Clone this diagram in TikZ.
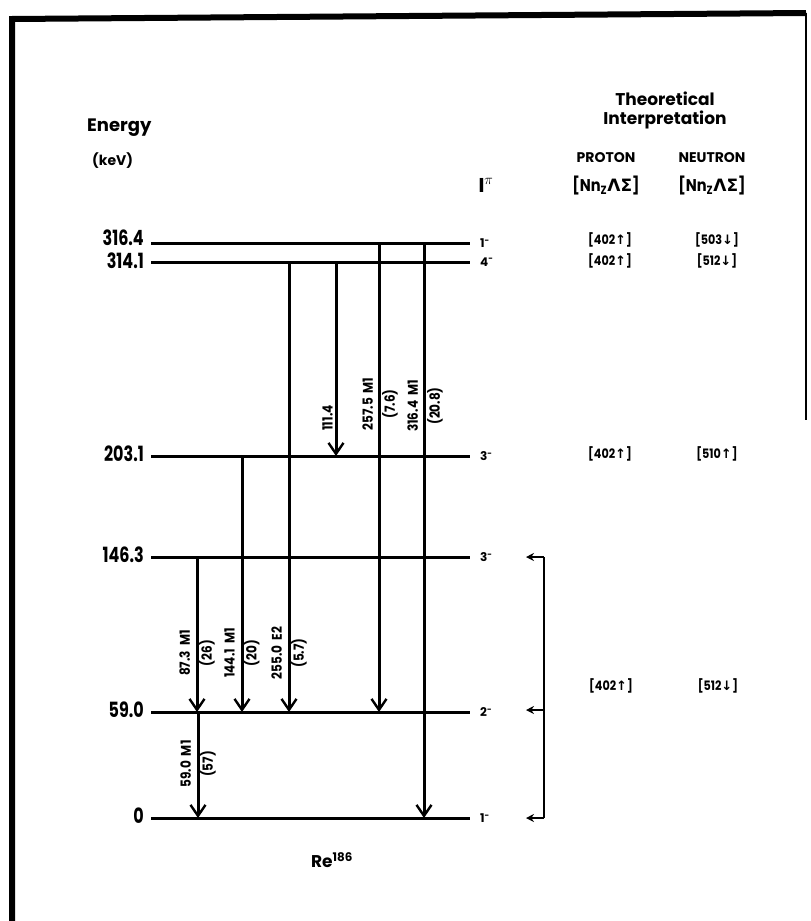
\documentclass[tikz,border=0pt]{standalone}
\usepackage{fontspec}
\setmainfont{Poppins}
\newfontfamily\condfont{Poppins}[FakeStretch=0.76]
\newfontfamily\semicond{Poppins}[FakeStretch=0.86]
\newfontfamily\gk{DejaVu Sans}
\usetikzlibrary{arrows.meta}
\begin{document}
\begin{tikzpicture}[x=1pt,y=-1pt,
  level/.style={line width=3pt},
  gammaline/.style={-{Straight Barb[length=11pt,width=15pt,line width=2.4pt]},line width=3pt},
  lev/.style={anchor=east,inner sep=0pt,font=\fontsize{21}{21}\condfont\bfseries},
  spin/.style={anchor=west,inner sep=0pt,font=\fontsize{12}{12}\selectfont\bfseries},
  tl/.style={rotate=90,align=center,inner sep=0pt,font=\fontsize{14}{22}\semicond\bfseries},
  qn/.style={inner sep=0pt,font=\fontsize{13}{13}\semicond\bfseries},
  hd/.style={inner sep=0pt,font=\fontsize{18}{18}\selectfont\bfseries},
  brk/.style={line width=1.5pt},
  brkarrow/.style={line width=1.5pt,-{Stealth[length=8pt,width=8pt]}}
]
\useasboundingbox (0,0) rectangle (811,921);
% frame
\coordinate (f1) at (12,921);
\coordinate (f2) at (12,19);
\coordinate (f3) at (806,13);
\coordinate (f4) at (806,420);
\draw[line width=6pt] (f1) -- (f2) -- (f3);
\draw[line width=2pt] (f3) -- (f4);

% headers
\node[hd,anchor=base west] (energy) at (87,131) {Energy};
\node[hd,anchor=base west,font=\fontsize{14}{14}\selectfont\bfseries] (kev) at (92,165) {(keV)};
\node[hd,align=center,font=\fontsize{17}{19}\selectfont\bfseries] (theo) at (665,110) {Theoretical\\Interpretation};
\node[qn,anchor=base,font=\fontsize{14}{14}\selectfont\bfseries] (proton) at (606,162) {PROTON};
\node[qn,anchor=base,font=\fontsize{14}{14}\selectfont\bfseries] (neutron) at (712,162) {NEUTRON};
\node[inner sep=0pt,font=\fontsize{20}{20}\selectfont] (ipi) at (486,185) {$\mathbf{I}^{\pi}$};
\node[qn,font=\fontsize{17}{17}\semicond\bfseries] (pnz) at (606,186) {[Nn\textsubscript{Z}{\gk ΛΣ}]};
\node[qn,font=\fontsize{17}{17}\semicond\bfseries] (nnz) at (712,186) {[Nn\textsubscript{Z}{\gk ΛΣ}]};

% levels
\foreach \nm/\yy/\ly/\lab/\sp in {L316/243/238/316.4/1, L314/262/261/314.1/4, L203/456/454/203.1/3, L146/557/555/146.3/3, L59/712/710/59.0/2, L0/818/816/0/1}{
  \coordinate (\nm a) at (151,\yy);
  \coordinate (\nm b) at (470,\yy);
  \draw[level] (\nm a) -- (\nm b);
  \node[lev] (\nm t) at (144,\ly) {\lab};
  \node[spin] (\nm s) at (480,\yy) {\sp\textsuperscript{-}};
}

% quantum numbers
\node[qn] (p316) at (610,240) {[402{\gk ↑}]};
\node[qn] (n316) at (717,240) {[503{\gk ↓}]};
\node[qn] (p314) at (610,261) {[402{\gk ↑}]};
\node[qn] (n314) at (717,261) {[512{\gk ↓}]};
\node[qn] (p203) at (610,454) {[402{\gk ↑}]};
\node[qn] (n203) at (717,454) {[510{\gk ↑}]};
\node[qn] (plow) at (611,686) {[402{\gk ↑}]};
\node[qn] (nlow) at (718,686) {[512{\gk ↓}]};

% transitions
\coordinate (g87a) at (197,557); \coordinate (g87b) at (197,712);
\coordinate (g144a) at (242,456); \coordinate (g144b) at (242,712);
\coordinate (g255a) at (289,262); \coordinate (g255b) at (289,712);
\coordinate (g111a) at (336,262); \coordinate (g111b) at (336,456);
\coordinate (g257a) at (379,243); \coordinate (g257b) at (379,712);
\coordinate (g316a) at (424,243); \coordinate (g316b) at (424,818);
\coordinate (g59a) at (198,712); \coordinate (g59b) at (198,818);
\foreach \g in {g87,g144,g255,g111,g257,g316,g59}{
  \draw[gammaline] (\g a) -- (\g b);
}
\node[tl] (l87) at (197,653) {87.3~~M1\\(26)};
\node[tl] (l144) at (242,653) {144.1~~M1\\(20)};
\node[tl] (l255) at (289,653) {255.0~~E2\\(5.7)};
\node[tl,anchor=south] (l111) at (333,418) {111.4};
\node[tl] (l257) at (380,404) {257.5~~M1\\(7.6)};
\node[tl] (l316) at (425,406) {316.4~~M1\\(20.8)};
\node[tl] (l59) at (198,764) {59.0~~M1\\(57)};

% bracket
\coordinate (bt) at (544,557); \coordinate (bm) at (544,710); \coordinate (bb) at (544,818);
\coordinate (btt) at (526,557); \coordinate (bmt) at (526,710); \coordinate (bbt) at (526,818);
\draw[brk] (bt) -- (bb);
\draw[brkarrow] (bt) -- (btt);
\draw[brkarrow] (bm) -- (bmt);
\draw[brkarrow] (bb) -- (bbt);

% nucleus
\node[inner sep=0pt,font=\fontsize{17}{17}\selectfont\bfseries] (re) at (332,860) {Re\textsuperscript{186}};
\end{tikzpicture}
\end{document}
